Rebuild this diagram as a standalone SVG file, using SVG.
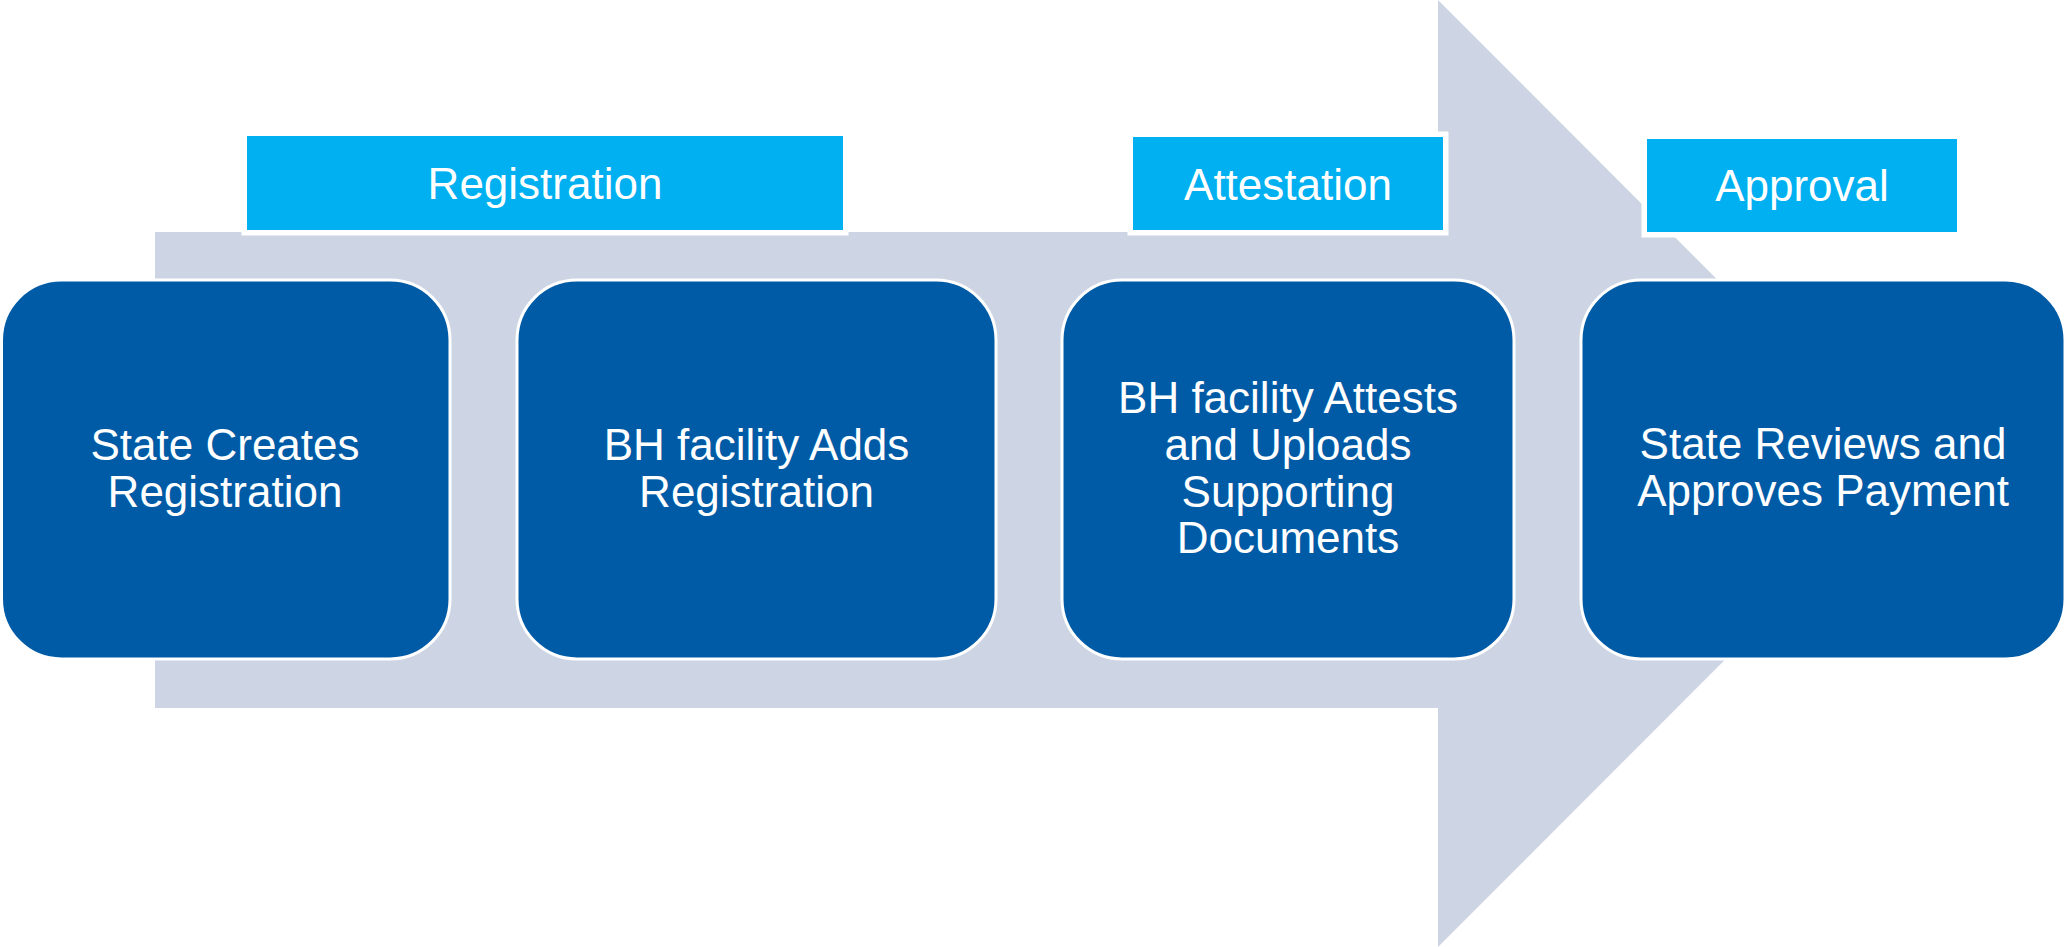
<svg xmlns="http://www.w3.org/2000/svg" width="2067" height="947" viewBox="0 0 2067 947">
  <style>
    .step { fill: #005BA6; stroke: #FFFFFF; stroke-width: 3; }
    .label { fill: #00B0F0; stroke: #FFFFFF; stroke-width: 11; paint-order: stroke; }
    .txt { font-family: "Liberation Sans", Arial, sans-serif; font-size: 44px; fill: #FFFFFF; text-anchor: middle; }
  </style>
  <rect width="2067" height="947" fill="#FFFFFF"/>
  <g id="arrow">
    <polygon points="155,232 1438,232 1438,0 1911,473.5 1438,947 1438,708 155,708" fill="#CDD4E3"/>
  </g>
  <g id="label-registration">
    <rect class="label" x="247" y="136" width="596" height="94"/>
    <text class="txt" x="545" y="199">Registration</text>
  </g>
  <g id="label-attestation">
    <rect class="label" x="1133" y="137" width="310" height="93"/>
    <text class="txt" x="1288" y="200">Attestation</text>
  </g>
  <g id="label-approval">
    <rect class="label" x="1647" y="139" width="310" height="93"/>
    <text class="txt" x="1802" y="201">Approval</text>
  </g>
  <g id="step1">
    <rect class="step" x="1.5" y="280" width="448.5" height="379" rx="60" ry="60"/>
    <text class="txt" x="225" y="460">State Creates</text>
    <text class="txt" x="225" y="507">Registration</text>
  </g>
  <g id="step2">
    <rect class="step" x="517" y="280" width="479" height="379" rx="60" ry="60"/>
    <text class="txt" x="756.5" y="460">BH facility Adds</text>
    <text class="txt" x="756.5" y="507">Registration</text>
  </g>
  <g id="step3">
    <rect class="step" x="1062" y="280" width="452" height="379" rx="60" ry="60"/>
    <text class="txt" x="1288" y="413">BH facility Attests</text>
    <text class="txt" x="1288" y="460">and Uploads</text>
    <text class="txt" x="1288" y="507">Supporting</text>
    <text class="txt" x="1288" y="553">Documents</text>
  </g>
  <g id="step4">
    <rect class="step" x="1581" y="280" width="484" height="379" rx="60" ry="60"/>
    <text class="txt" x="1823" y="459">State Reviews and</text>
    <text class="txt" x="1823" y="506">Approves Payment</text>
  </g>
  <g id="connectors"/>
</svg>
